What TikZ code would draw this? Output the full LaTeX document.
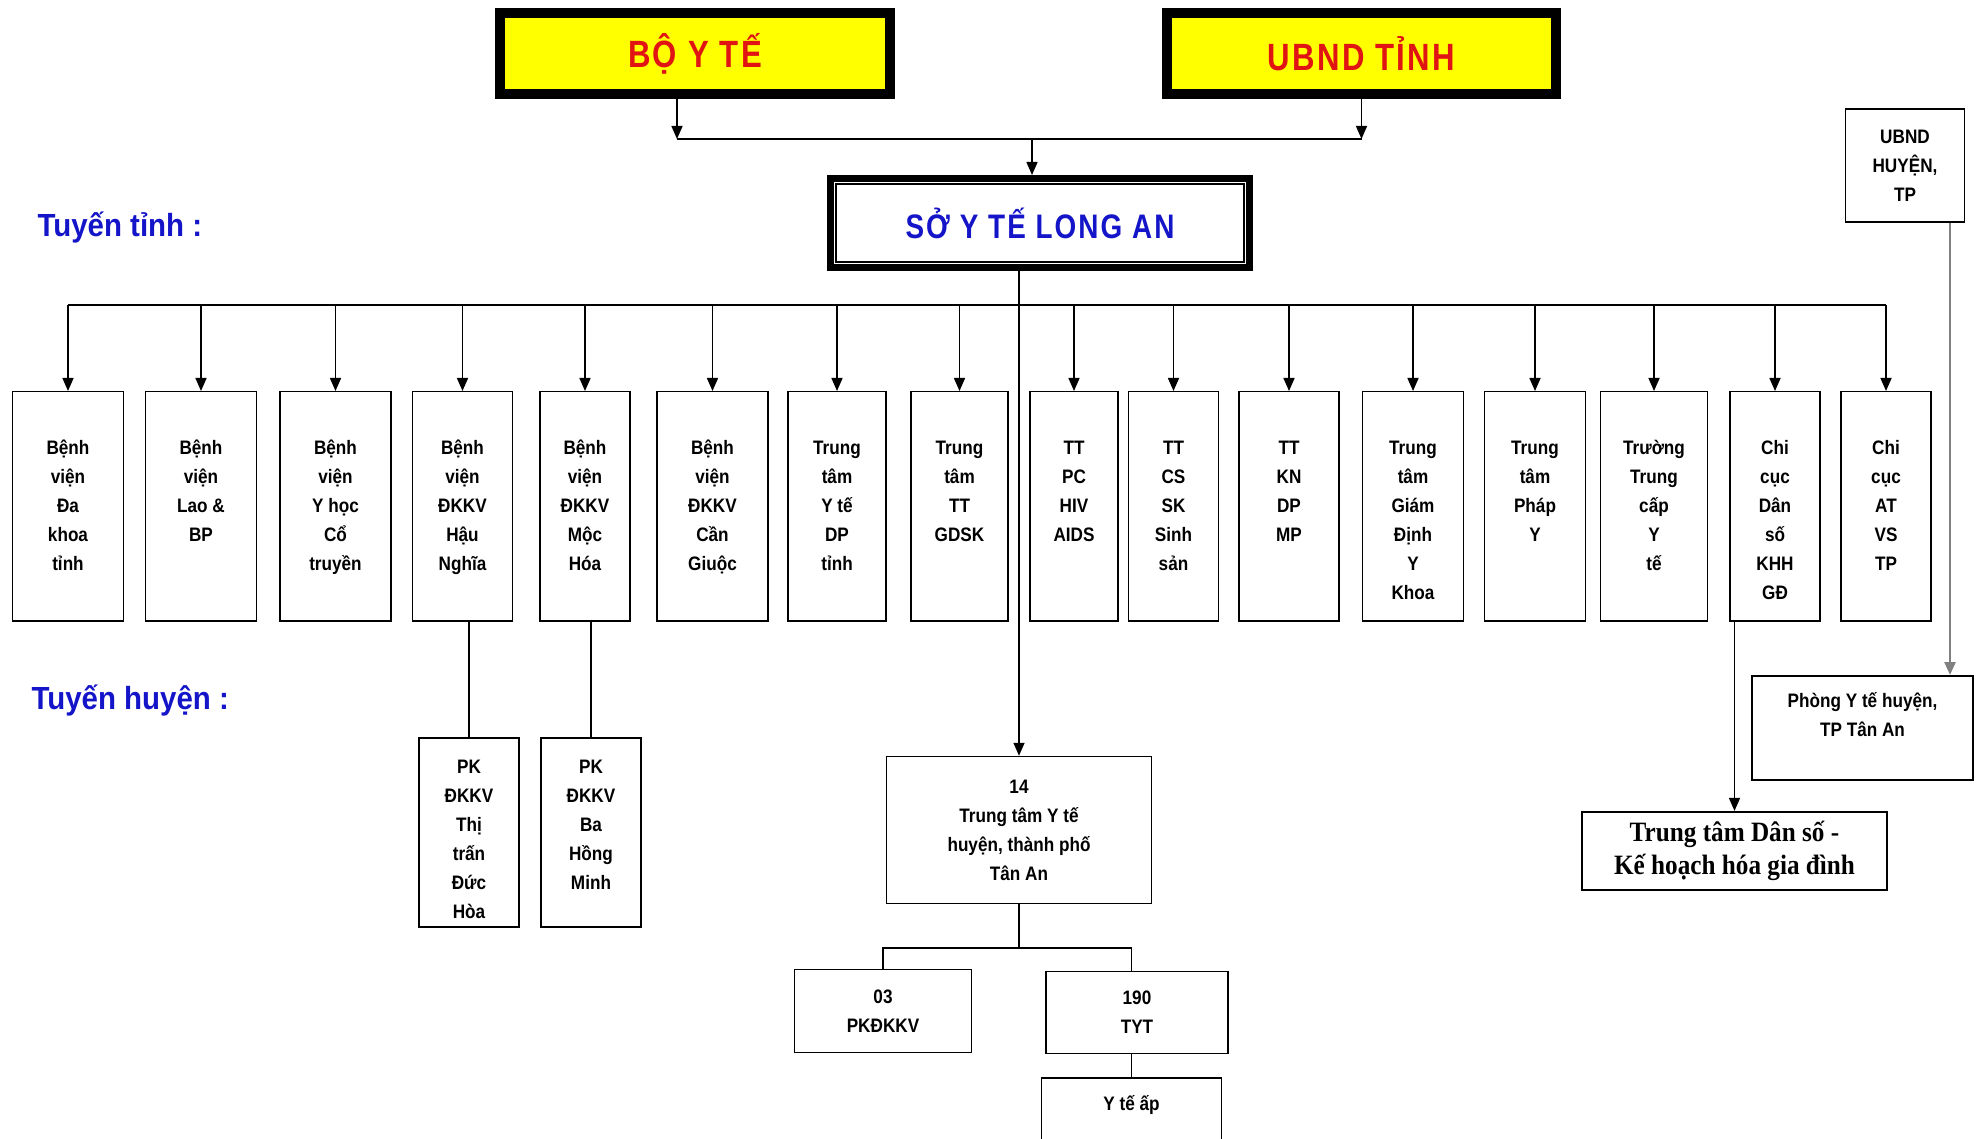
\documentclass[tikz,border=0pt]{standalone}
\usepackage{fontspec}
\setmainfont{Liberation Sans}
\newfontfamily\narrowfont[FakeStretch=0.88]{Liberation Sans}
\newfontfamily\headfont[FakeStretch=0.82,LetterSpace=6]{Liberation Sans}
\newfontfamily\levelfont[FakeStretch=0.92]{Liberation Sans}
\newfontfamily\serifnarrow[FakeStretch=0.9]{Liberation Serif}
\usetikzlibrary{arrows.meta}
\definecolor{headred}{RGB}{225,20,20}
\definecolor{headyellow}{RGB}{255,255,0}
\definecolor{levelblue}{RGB}{20,20,200}
\newcommand\unitfont{\narrowfont\bfseries\fontsize{19.5}{29}\selectfont}
\newcommand\cellstack[1]{\begin{tabular}[t]{@{}c@{}}#1\end{tabular}}
\tikzset{
  headbox/.style={draw, line width=8pt, fill=headyellow, minimum width=392pt, minimum height=83pt,
    text=headred, font=\headfont\bfseries\fontsize{38}{40}\selectfont},
  unit/.style={draw, line width=1.5pt, anchor=north, inner sep=0pt, font=\unitfont,
    text height=63pt, text depth=166pt},
  plainbox/.style={draw, line width=1.5pt, inner sep=0pt, align=center, font=\unitfont},
  level/.style={anchor=base west, text=levelblue, font=\levelfont\bfseries\fontsize{32}{36}\selectfont},
  link/.style={line width=1.5pt},
  >={Triangle[length=13pt,width=11pt]}
}
\begin{document}
\begin{tikzpicture}[x=1pt, y=-1pt]
\useasboundingbox (0,0) rectangle (1984,1139);
% top level
\node[headbox] (boyte) at (695,53.5) {BỘ Y TẾ};
\node[headbox, minimum width=391pt] (ubnd) at (1361.5,53.5) {UBND TỈNH};
\node[headbox, fill=white, text=levelblue, line width=7pt, minimum width=419pt, minimum height=89pt,
  font=\headfont\bfseries\fontsize{34}{38}\selectfont] (soyte) at (1040,223) {SỞ Y TẾ LONG AN};
\foreach \n in {boyte,ubnd,soyte}
  \draw[line width=1.3pt] ([shift={(9pt,-9pt)}]\n.north west) rectangle ([shift={(-9pt,9pt)}]\n.south east);

\coordinate (join) at (1032,139);
\draw[link,->] ([xshift=-18pt]boyte.south) -- ([xshift=-18pt]boyte.south |- join);
\draw[link,->] (ubnd.south) -- (ubnd.south |- join);
\draw[link] ([xshift=-18pt]boyte.south |- join) -- (ubnd.south |- join);
\draw[link,->] (join) -- (join |- soyte.north);

\node[level] (tinh) at (34,237) {Tuyến tỉnh :};
\node[level] (huyen) at (28,709) {Tuyến huyện :};

% tuyen tinh
\coordinate (busy) at (0,305);
\foreach \n/\x/\w/\txt in {
  1/68/111/{Bệnh\\viện\\Đa\\khoa\\tỉnh},
  2/201/111/{Bệnh\\viện\\Lao \&\\BP},
  3/335.5/111/{Bệnh\\viện\\Y học\\Cổ\\truyền},
  4/462.5/100/{Bệnh\\viện\\ĐKKV\\Hậu\\Nghĩa},
  5/585/90/{Bệnh\\viện\\ĐKKV\\Mộc\\Hóa},
  6/712.5/111/{Bệnh\\viện\\ĐKKV\\Cần\\Giuộc},
  7/837/98/{Trung\\tâm\\Y tế\\DP\\tỉnh},
  8/959.5/97/{Trung\\tâm\\TT\\GDSK},
  9/1074/88/{TT\\PC\\HIV\\AIDS},
  10/1173.5/90/{TT\\CS\\SK\\Sinh\\sản},
  11/1289/100/{TT\\KN\\DP\\MP},
  12/1413/101/{Trung\\tâm\\Giám\\Định\\Y\\Khoa},
  13/1535/101/{Trung\\tâm\\Pháp\\Y},
  14/1654/107/{Trường\\Trung\\cấp\\Y\\tế},
  15/1775/90/{Chi\\cục\\Dân\\số\\KHH\\GĐ},
  16/1886/90/{Chi\\cục\\AT\\VS\\TP}}
{
  \node[unit, minimum width=\w pt] (b\n) at (\x,391) {\cellstack{\txt}};
  \draw[link,->] (b\n.north |- busy) -- (b\n.north);
}
\draw[link] (b1.north |- busy) -- (b16.north |- busy);

% tuyen huyen
\node[unit, minimum width=100pt, text height=36pt, text depth=153pt] (pk1) at (469,737) {\cellstack{PK\\ĐKKV\\Thị\\trấn\\Đức\\Hòa}};
\node[unit, minimum width=100pt, text height=36pt, text depth=153pt] (pk2) at (591,737) {\cellstack{PK\\ĐKKV\\Ba\\Hồng\\Minh}};
\draw[link] (b4.south -| pk1.north) -- (pk1.north);
\draw[link] (b5.south -| pk2.north) -- (pk2.north);

\node[plainbox, minimum width=265pt, minimum height=147pt] (tt14) at (1019,830) {14\\Trung tâm Y tế\\huyện, thành phố\\Tân An};
\draw[link,->] (soyte.south -| tt14.north) -- (tt14.north);
\node[plainbox, minimum width=177pt, minimum height=83pt] (pkd) at (883,1011) {03\\PKĐKKV};
\node[plainbox, minimum width=182pt, minimum height=82pt] (tyt) at (1137,1012.5) {190\\TYT};
\node[unit, minimum width=180pt, text height=33pt, text depth=57pt] (ytap) at (1131.5,1077) {Y tế ấp};
\coordinate (fork) at (1019,948);
\draw[link] (tt14.south) -- (fork);
\draw[link] (pkd.north) |- (fork);
\draw[link] (tyt.north -| ytap.north) |- (fork);
\draw[link] (tyt.south -| ytap.north) -- (ytap.north);

% ben phai
\node[plainbox, minimum width=119pt, minimum height=113pt, font=\unitfont\fontsize{19.5}{29}\selectfont] (ubndh) at (1905,165.5) {UBND\\HUYỆN,\\TP};
\node[unit, minimum width=221pt, text height=32pt, text depth=72pt] (phong) at (1862.5,675) {\cellstack{Phòng Y tế huyện,\\TP Tân An}};
\draw[->, line width=2.5pt, gray] ([xshift=45pt]ubndh.south) -- ([xshift=45pt]ubndh.south |- phong.north);
\node[draw, line width=2.2pt, minimum width=305pt, minimum height=78pt, align=center, inner sep=0pt,
  font=\serifnarrow\bfseries\fontsize{28}{33}\selectfont] (ttds) at (1734.5,851) {Trung tâm Dân số -\\Kế hoạch hóa gia đình};
\draw[link,->] (b15.south -| ttds.north) -- (ttds.north);
\end{tikzpicture}
\end{document}
